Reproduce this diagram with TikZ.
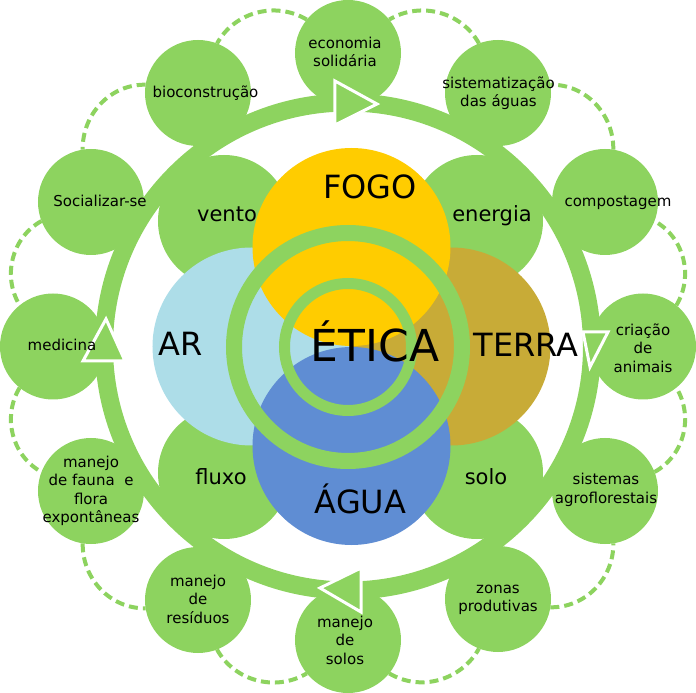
\documentclass[tikz,border=0pt]{standalone}
\usepackage{fontspec}
\setmainfont{DejaVu Sans}
\definecolor{leaf}{HTML}{8DD35F}
\definecolor{fire}{HTML}{FFCC00}
\definecolor{air}{HTML}{ADDDE8}
\definecolor{earth}{HTML}{C8AB37}
\definecolor{water}{HTML}{5F8DD3}
\begin{document}
\begin{tikzpicture}[x=1pt,y=1pt,
    sat/.style={circle,fill=leaf,minimum size=106pt,inner sep=0pt,outer sep=0pt},
    hub/.style={circle,fill=leaf,minimum size=132pt,inner sep=0pt},
    elem/.style={circle,minimum size=198pt,inner sep=0pt},
    link/.style={leaf,line width=4pt,dash pattern=on 9pt off 5pt},
    tip/.style={draw=white,fill=leaf,line width=3pt,line join=miter},
    note/.style={font=\fontsize{15}{18.5}\selectfont,align=center,inner sep=0pt},
    word/.style={font=\fontsize{21}{25}\selectfont,anchor=base,inner sep=0pt},
    big/.style={font=\fontsize{32}{38}\selectfont,anchor=base,inner sep=0pt}]
  \useasboundingbox (-348,-346.5) rectangle (348,346.5);
  % big cycle
  \draw[leaf,line width=18pt] (0,0) circle[radius=244];
  \node[sat] (eco) at (0,293.5) {};
  \node[sat] (sist) at (150,253.5) {};
  \node[sat] (comp) at (257,144.5) {};
  \node[sat] (cria) at (295,0) {};
  \node[sat] (agro) at (257,-144.5) {};
  \node[sat] (zonas) at (150,-252.5) {};
  \node[sat] (solos) at (0,-293.5) {};
  \node[sat] (resid) at (-150,-253.5) {};
  \node[sat] (fauna) at (-257,-144.5) {};
  \node[sat] (med) at (-295,0) {};
  \node[sat] (soc) at (-257,144.5) {};
  \node[sat] (bio) at (-150,253.5) {};
  \draw[link] (sist.111) to[out=119,in=31] (eco.39);
  \draw[link] (comp.81) to[out=89,in=1] (sist.9);
  \draw[link] (cria.51) to[out=59,in=-29] (comp.-21);
  \draw[link] (agro.21) to[out=29,in=-59] (cria.-51);
  \draw[link] (zonas.-9) to[out=-1,in=-89] (agro.-81);
  \draw[link] (solos.-39) to[out=-31,in=-119] (zonas.-111);
  \draw[link] (resid.-69) to[out=-61,in=-149] (solos.-141);
  \draw[link] (fauna.-99) to[out=-91,in=-179] (resid.-171);
  \draw[link] (med.231) to[out=239,in=151] (fauna.159);
  \draw[link] (soc.201) to[out=209,in=121] (med.129);
  \draw[link] (bio.171) to[out=179,in=91] (soc.99);
  \draw[link] (eco.141) to[out=149,in=61] (bio.69);
  % elements
  \node[hub] (vento) at (-124,125.5) {};
  \node[hub] (energia) at (129,125.5) {};
  \node[hub] (fluxo) at (-124,-126.5) {};
  \node[hub] (solo) at (129,-126.5) {};
  \node[elem,fill=air] (ar) at (-96.5,0) {};
  \node[elem,fill=earth] (terra) at (103.5,0) {};
  \node[elem,fill=fire] (fogo) at (3.5,99.5) {};
  \node[elem,fill=water] (agua) at (3.5,-99.5) {};
  \draw[leaf,line width=16pt] (0,-0.5) circle[radius=114];
  \draw[leaf,line width=11pt] (0,-0.5) circle[radius=63.5];
  % direction marks
  \draw[tip] (-13,265.5) -- (29,242.5) -- (-13,221.5) -- cycle;
  \draw[tip] (235,14.5) -- (260,14.5) -- (242,-20.5) -- cycle;
  \draw[tip] (13,-221.5) -- (13,-265.5) -- (-28,-241.5) -- cycle;
  \draw[tip] (-265,-14.5) -- (-242,27.5) -- (-223,-14.5) -- cycle;
  % texts
  \node[big] (fogo-t) at (22,147.5) {FOGO};
  \node[big] (ar-t) at (-167,-9.5) {AR};
  \node[big] (terra-t) at (178,-10.5) {TERRA};
  \node[big] (agua-t) at (12.5,-166.5) {ÁGUA};
  \node[big,font=\fontsize{44}{52}\selectfont] (etica-t) at (27,-15.5) {ÉTICA};
  \node[word] (vento-t) at (-121,124.5) {vento};
  \node[word] (energia-t) at (144,124.5) {energia};
  \node[word] (fluxo-t) at (-127,-138.5) {fluxo};
  \node[word] (solo-t) at (138,-137.5) {solo};
  \node[note] (eco-t) at (-3,294.5) {economia\\solidária};
  \node[note] (sist-t) at (150.5,253.5) {sistematização\\das águas};
  \node[note,anchor=base] (comp-t) at (270,139.5) {compostagem};
  \node[note] (cria-t) at (295,-1.5) {criação\\de\\animais};
  \node[note] (agro-t) at (258,-143.5) {sistemas\\agroflorestais};
  \node[note] (zonas-t) at (150,-253.5) {zonas\\produtivas};
  \node[note] (solos-t) at (-3,-293.5) {manejo\\de\\solos};
  \node[note] (resid-t) at (-150,-252.5) {manejo\\de\\resíduos};
  \node[note] (fauna-t) at (-257,-144.5) {manejo\\de fauna\ \ e\\flora\\expontâneas};
  \node[note,anchor=base] (med-t) at (-286,-4.5) {medicina};
  \node[note,anchor=base] (soc-t) at (-248,139.5) {Socializar-se};
  \node[note,anchor=base] (bio-t) at (-142.5,248.5) {bioconstrução};
\end{tikzpicture}
\end{document}
